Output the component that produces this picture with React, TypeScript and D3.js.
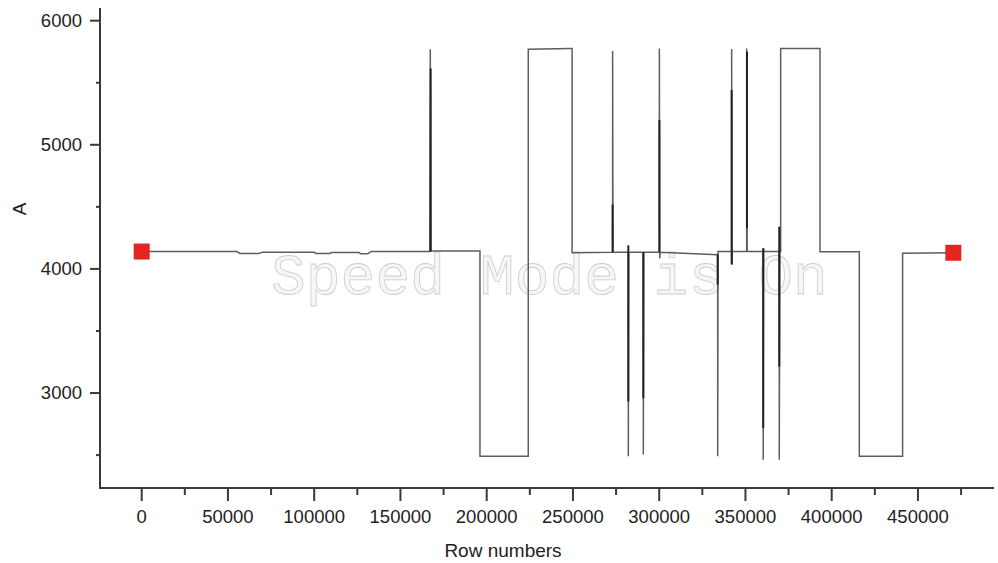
import { useEffect, useRef } from "react"
import * as d3 from "d3"

// trace of the signal (row number, value)
const rows = [
  0, 55000, 57000, 68000, 70000, 100000, 101000, 109000, 110000, 126000, 127000, 131000, 133000,
  167000, 167300, 167600, 196100, 196100, 224100, 224100, 248700, 249500, 249500,
  273000, 273000, 273200, 282100, 282100, 282300, 290800, 290800, 291000,
  300100, 300100, 300300, 300500, 333900, 333900, 334100,
  342000, 342000, 342200, 342400, 350700, 350700, 351000,
  360300, 360300, 360500, 360700, 369600, 369600, 369900, 370400, 370400,
  393200, 393200, 416000, 416000, 441100, 441100, 470500,
]
const amps = [
  4140, 4140, 4125, 4125, 4135, 4135, 4125, 4125, 4132, 4132, 4122, 4122, 4140,
  4140, 5770, 4145, 4145, 2490, 2490, 5770, 5775, 5775, 4130,
  4135, 5755, 4135, 4135, 2490, 4135, 4135, 2505, 4135,
  4135, 5776, 4085, 4135, 4115, 2490, 4140,
  4140, 5771, 4035, 4140, 4140, 5776, 4140,
  4140, 2462, 4166, 4140, 4140, 2462, 4140, 4140, 5776,
  5776, 4139, 4139, 2490, 2490, 4126, 4130,
]

// darker, densely overlapped parts of the spikes
const denseRows = [167500, 273000, 282100, 290800, 300100, 333900, 342000, 350900, 360300, 369600]
const denseLo = [4140, 4135, 2932, 2958, 4135, 3873, 4035, 4327, 2717, 3213]
const denseHi = [5615, 4518, 4190, 4135, 5200, 4115, 5441, 5750, 4166, 4340]

const xMajor = [0, 50000, 100000, 150000, 200000, 250000, 300000, 350000, 400000, 450000]
const xMinor = [25000, 75000, 125000, 175000, 225000, 275000, 325000, 375000, 425000, 475000]
const yMajor = [3000, 4000, 5000, 6000]
const yMinor = [2500, 3500, 4500, 5500]

export default function App() {
  const ref = useRef<SVGSVGElement | null>(null)

  useEffect(() => {
    const svg = d3.select(ref.current)
    svg.selectAll("*").remove()

    const x = d3.scaleLinear().domain([-24170, 494080]).range([100, 994])
    const y = d3.scaleLinear().domain([2235, 6102]).range([488, 8])
    const font = "'Liberation Sans', Arial, sans-serif"
    const axisColor = "#3a3a3a"

    // watermark
    svg.append("text")
      .attr("x", 271)
      .attr("y", 294)
      .attr("font-family", "'Courier New', 'Liberation Mono', monospace")
      .attr("font-size", 58)
      .attr("fill", "#f6f6f6")
      .attr("stroke", "#cdcdcd")
      .attr("stroke-width", 0.8)
      .text("Speed Mode is On")

    const pts = rows.map((r, i) => [r, amps[i]] as [number, number])
    const line = d3.line<[number, number]>()
      .x(d => x(d[0]))
      .y(d => y(d[1]))

    svg.append("path")
      .attr("d", line(pts)!)
      .attr("fill", "none")
      .attr("stroke", "#5e5e5e")
      .attr("stroke-width", 1.5)

    svg.append("g")
      .selectAll("line")
      .data(denseRows)
      .enter()
      .append("line")
      .attr("x1", d => x(d))
      .attr("x2", d => x(d))
      .attr("y1", (d, i) => y(denseLo[i]))
      .attr("y2", (d, i) => y(denseHi[i]))
      .attr("stroke", "#222")
      .attr("stroke-width", 2)

    // end markers
    const ends = [pts[0], pts[pts.length - 1]]
    svg.append("g")
      .selectAll("rect")
      .data(ends)
      .enter()
      .append("rect")
      .attr("x", d => x(d[0]) - 8)
      .attr("y", d => y(d[1]) - 8)
      .attr("width", 16)
      .attr("height", 16)
      .attr("fill", "#e52424")

    // axes
    const ax = svg.append("g").attr("stroke", axisColor).attr("stroke-width", 2)
    ax.append("line").attr("x1", 100).attr("x2", 100).attr("y1", 8).attr("y2", 489)
    ax.append("line").attr("x1", 99).attr("x2", 994).attr("y1", 488).attr("y2", 488)

    ax.selectAll(".ymaj").data(yMajor).enter().append("line")
      .attr("x1", 90).attr("x2", 100).attr("y1", d => y(d)).attr("y2", d => y(d))
    ax.selectAll(".ymin").data(yMinor).enter().append("line")
      .attr("x1", 96).attr("x2", 100).attr("y1", d => y(d)).attr("y2", d => y(d))
    ax.selectAll(".xmaj").data(xMajor).enter().append("line")
      .attr("y1", 488).attr("y2", 501).attr("x1", d => x(d)).attr("x2", d => x(d))
    ax.selectAll(".xmin").data(xMinor).enter().append("line")
      .attr("y1", 488).attr("y2", 495).attr("x1", d => x(d)).attr("x2", d => x(d))

    svg.append("g")
      .selectAll("text")
      .data(yMajor)
      .enter()
      .append("text")
      .attr("x", 82)
      .attr("y", d => y(d))
      .attr("dy", "0.34em")
      .attr("text-anchor", "end")
      .attr("font-family", font)
      .attr("font-size", 18.5)
      .attr("fill", "#222")
      .text(d => d)

    svg.append("g")
      .selectAll("text")
      .data(xMajor)
      .enter()
      .append("text")
      .attr("x", d => x(d))
      .attr("y", 523)
      .attr("text-anchor", "middle")
      .attr("font-family", font)
      .attr("font-size", 18.5)
      .attr("fill", "#222")
      .text(d => d)

    svg.append("text")
      .attr("transform", "translate(26, 209) rotate(-90)")
      .attr("text-anchor", "middle")
      .attr("font-family", font)
      .attr("font-size", 19)
      .attr("fill", "#222")
      .text("A")

    svg.append("text")
      .attr("x", 503)
      .attr("y", 557)
      .attr("text-anchor", "middle")
      .attr("font-family", font)
      .attr("font-size", 19)
      .attr("fill", "#222")
      .text("Row numbers")
  }, [])

  return (
    <svg
      ref={ref}
      width={998}
      height={563}
      style={{ position: "absolute", left: 0, top: 0, background: "#fff" }}
    />
  )
}
